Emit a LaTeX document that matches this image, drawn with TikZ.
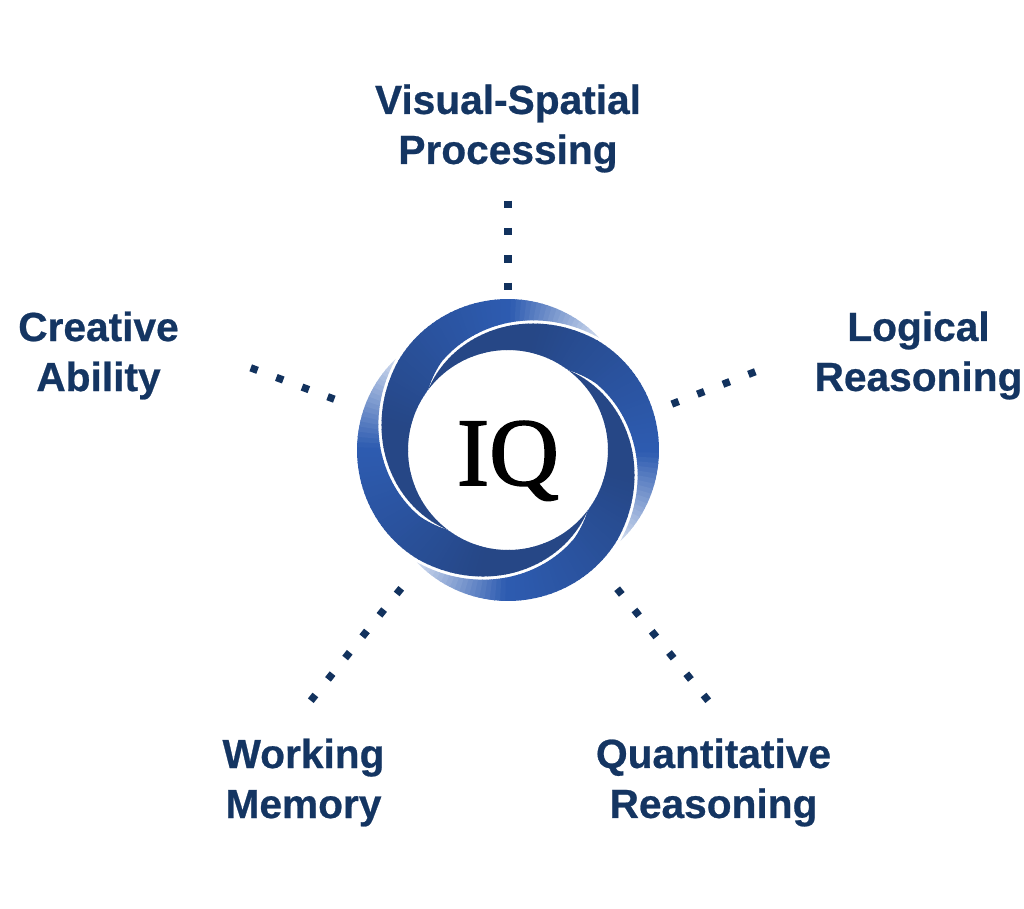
\documentclass[tikz,border=0pt]{standalone}
\usepackage{fontspec}
\setmainfont{Liberation Sans}[BoldFeatures={FakeBold=0.6}]
\newfontfamily\iqfont{Liberation Serif}[FakeBold=1.6]
\definecolor{labelblue}{RGB}{20,53,98}
\definecolor{dotblue}{RGB}{18,50,94}
\pgfmathdeclarefunction{rbase}{1}{%
  \pgfmathparse{(#1<0) ? (124+0.453*#1) : ((#1<39) ? (124+0.445*#1) : ((#1<90) ? (151-0.00369*(#1-90)*(#1-90)) : (151-0.0042*(#1-90)*(#1-90))))}%
}
\pgfmathdeclarefunction{rinner}{1}{%
  \pgfmathparse{(#1<37) ? 100 : max(100,rbase(#1-90)+min(3.2,(#1-37)*0.2))}%
}
\tikzset{
  x=0.75pt,y=-0.75pt,
  lab/.style={font=\fontsize{30.5}{37.5}\selectfont\bfseries,text=labelblue,align=center,inner sep=0pt},
  dotline/.style={draw=dotblue,line width=5.5pt,dash pattern=on 5.5pt off 15.05pt},
  iqtext/.style={font=\iqfont\fontsize{72.5}{72.5}\selectfont,text=black,inner sep=0pt,anchor=base},
}
\begin{document}
\begin{tikzpicture}
\useasboundingbox (0,0) rectangle (1024,908);
\fill[white] (0,0) rectangle (1024,908);
\foreach \rot in {0,90,180,270}{
  \foreach \p in {-53,-51,...,127}{
    \pgfmathsetmacro{\qq}{min(\p+2.4,129)}
    \pgfmathsetmacro{\a}{rbase(\p)}
    \pgfmathsetmacro{\b}{rinner(\p)}
    \pgfmathsetmacro{\c}{rbase(\qq)}
    \pgfmathsetmacro{\d}{rinner(\qq)}
    \pgfmathsetmacro{\t}{(\p<10) ? 0 : ((\p<90) ? (\p-10)/80 : 1)}
    \pgfmathsetmacro{\u}{(\p<90) ? 0 : (\p-90)/39}
    \pgfmathtruncatemacro{\cr}{(38+8*\t)*(1-\u)+214*\u}
    \pgfmathtruncatemacro{\cg}{(71+21*\t)*(1-\u)+224*\u}
    \pgfmathtruncatemacro{\cb}{(134+43*\t)*(1-\u)+241*\u}
    \definecolor{segc}{RGB}{\cr,\cg,\cb}
    \fill[segc]
      ({508+\a*sin(\p+\rot)},{450-\a*cos(\p+\rot)}) --
      ({508+\c*sin(\qq+\rot)},{450-\c*cos(\qq+\rot)}) --
      ({508+\d*sin(\qq+\rot)},{450-\d*cos(\qq+\rot)}) --
      ({508+\b*sin(\p+\rot)},{450-\b*cos(\p+\rot)}) -- cycle;
  }
}
\node[iqtext] (iq) at (508,485) {IQ};
\node[lab] (visual) at (508,128.5) {Visual-Spatial\\Processing};
\node[lab] (logical) at (918.5,355.5) {Logical\\Reasoning};
\node[lab] (quant) at (713.5,782.5) {Quantitative\\Reasoning};
\node[lab] (working) at (303.5,782.5) {Working\\Memory};
\node[lab] (creative) at (98.5,355.5) {Creative\\Ability};
\coordinate (v1) at (508,200.5);
\coordinate (v2) at (508,290);
\coordinate (l1) at (755.3,371.7);
\coordinate (l2) at (668.7,405.3);
\coordinate (q1) at (708.2,700.7);
\coordinate (q2) at (616.8,588.3);
\coordinate (w1) at (310.8,700.7);
\coordinate (w2) at (401.2,588.3);
\coordinate (c1) at (250.7,367.8);
\coordinate (c2) at (334.3,399.2);
\draw[dotline] (v1) -- (v2);
\draw[dotline] (l1) -- (l2);
\draw[dotline] (q1) -- (q2);
\draw[dotline] (w1) -- (w2);
\draw[dotline] (c1) -- (c2);
\end{tikzpicture}
\end{document}
